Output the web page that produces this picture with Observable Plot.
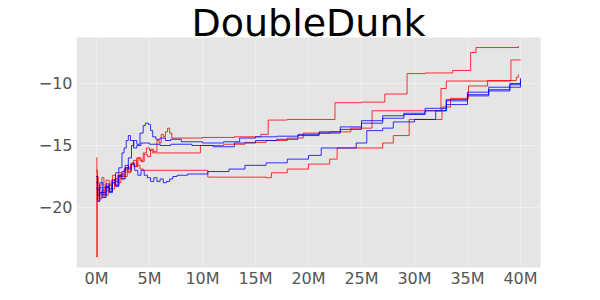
<!DOCTYPE html>
<html>
<head>
<meta charset="utf-8">
<script src="https://cdn.jsdelivr.net/npm/d3@7"></script>
<script src="https://cdn.jsdelivr.net/npm/@observablehq/plot@0.6"></script>
<style>
  html, body { margin: 0; padding: 0; background: #fff; }
  #chart { width: 600px; height: 300px; }
</style>
</head>
<body>
<div id="chart"></div>
<script>
const title = "DoubleDunk";
const xTicks = [0, 5, 10, 15, 20, 25, 30, 35, 40];
const yTicks = [-10, -15, -20];

// step (millions of frames) / score pairs for each run
const red1Steps = [0,0.1,0.3,0.5,0.7,0.9,1.2,1.5,1.8,2.1,2.4,2.7,3.0,3.3,3.6,3.9,4.2,4.5,4.8,5.1,5.4,5.7,5.9,6.1,6.3,6.5,6.7,6.9,7.1,7.5,10,13,15.5,16.2,18,22.5,25,27.2,29.3,31,33.6,35.3,35.8,39.8];
const red1Score = [-17,-19,-18.2,-17.6,-18.4,-17.8,-18.1,-17.4,-17.9,-17.2,-17.5,-16.8,-17.1,-16.4,-16.7,-16,-16.3,-15.7,-15.9,-15.3,-15.5,-14.6,-14.8,-14.1,-14.3,-13.9,-13.6,-14,-14.4,-14.4,-14.35,-14.3,-14.1,-12.95,-12.9,-11.55,-11.5,-10.85,-9.2,-9.15,-8.95,-7.5,-7.1,-7.0];

const red2Steps = [0,0.03,0.06,0.15,0.3,0.5,0.8,1.1,1.4,1.7,2.0,2.3,2.6,2.9,3.2,3.5,3.8,4.1,4.4,4.7,5.0,5.3,5.6,9.8,12,14,16,18,19.5,22,24,26,32.5,33,39.1,40];
const red2Score = [-16,-24,-17.5,-19.5,-18.8,-19.2,-18.3,-18.7,-17.8,-18.2,-17.4,-17.7,-16.9,-17.2,-16.5,-16.7,-16,-16.2,-15.6,-15.2,-15.4,-15.6,-15.6,-15,-14.9,-14.75,-14.6,-14.4,-14,-13.9,-13.6,-12.2,-10.4,-9.8,-8.1,-8.1];

const red3Steps = [0,0.1,0.3,0.5,0.8,1.1,1.4,1.7,2.0,2.3,2.6,2.9,3.2,3.5,3.8,4.1,4.4,9,10.5,16,16.5,18,20,22,22.7,27,28,29.5,32.6,33.4,35.1,36.9,39.6,39.8];
const red3Score = [-17.5,-18.5,-19.3,-18.6,-19,-18.2,-18.5,-17.7,-18,-17.3,-17.5,-16.8,-16.5,-16.2,-16.6,-16.9,-17,-17,-17.55,-17.6,-17.2,-16.9,-16.5,-16.1,-15.2,-14.8,-14.2,-12.9,-11.9,-11.2,-10.2,-9.76,-9.5,-9.3];

const blue1Steps = [0,0.1,0.3,0.6,0.9,1.2,1.5,1.8,2.1,2.4,2.7,3.0,3.3,3.5,3.8,4.1,4.4,4.6,4.9,5.1,5.3,5.6,6.0,6.5,7,8,10,12,13.5,15,17,19,21,23,25,27,29,31,33,35,37,39,40];
const blue1Score = [-17.5,-18.6,-18,-18.8,-18.1,-18.5,-17.8,-18.2,-17.4,-17.7,-16.8,-16,-15,-14.6,-14.9,-14,-13.4,-13.2,-13.3,-13.8,-14.3,-14.5,-14.4,-14.6,-14.5,-14.7,-14.8,-14.7,-14.4,-14.3,-14.25,-14.1,-13.9,-13.5,-13,-12.6,-12.4,-12,-11.4,-10.9,-10.5,-10.1,-9.6];

const blue2Steps = [0,0.1,0.3,0.6,0.9,1.2,1.5,1.8,2.1,2.4,2.6,2.8,3.0,3.2,3.5,3.8,4.2,5,6,7,9,11,13,15,17,19,21,23,25,27,29,31,33,35,37,39,40];
const blue2Score = [-18,-19,-18.4,-19,-18.3,-18.7,-18,-17.2,-16.8,-15.6,-15.2,-14.6,-14.2,-14.6,-15.2,-15,-14.8,-14.9,-15,-14.9,-15,-15.1,-14.8,-14.6,-14.5,-14.2,-14,-13.7,-13.2,-12.8,-12.5,-12.2,-11.3,-10.7,-10.3,-10,-9.8];

const blue3Steps = [0,0.1,0.3,0.6,0.9,1.2,1.5,1.8,2.1,2.4,2.7,3.0,3.3,3.6,3.9,4.2,4.5,4.8,5.1,5.4,5.7,6.0,6.3,6.6,6.9,7.2,7.6,8.6,10.5,12.5,14,16,18,20,21.2,24.5,25.5,27,28,30,32,33,35,37,39,40];
const blue3Score = [-18.5,-19.5,-18.8,-19.2,-18.4,-18.8,-18,-18.3,-17.5,-17.1,-16.6,-16.9,-16.5,-17,-17.4,-17,-17.4,-17.6,-17.9,-17.6,-17.9,-17.7,-18,-17.9,-17.7,-17.5,-17.4,-17.3,-17.1,-16.9,-16.6,-16.4,-16.1,-15.8,-15.2,-14.8,-13.8,-13.6,-13.1,-12.9,-12.2,-11.7,-11,-10.6,-10.3,-10.1];

const runs = [
  {name: "red1", color: "#ff0000", steps: red1Steps, score: red1Score},
  {name: "red2", color: "#ff0000", steps: red2Steps, score: red2Score},
  {name: "red3", color: "#ff0000", steps: red3Steps, score: red3Score},
  {name: "blue1", color: "#0000ff", steps: blue1Steps, score: blue1Score},
  {name: "blue2", color: "#0000ff", steps: blue2Steps, score: blue2Score},
  {name: "blue3", color: "#0000ff", steps: blue3Steps, score: blue3Score}
];

const rows = runs.flatMap(r => r.steps.map((s, i) => ({run: r.name, color: r.color, x: s, y: r.score[i]})));

const chart = Plot.plot({
  width: 600,
  height: 300,
  marginTop: 37,
  marginBottom: 33,
  marginLeft: 76,
  marginRight: 60,
  style: {fontFamily: "DejaVu Sans", fontSize: "16px", color: "#555", background: "#fff"},
  x: {domain: [-1.89, 41.89], ticks: xTicks, tickFormat: d => d + "M", tickSize: 0, tickPadding: 5, label: null},
  y: {domain: [-24.84, -6.29], ticks: yTicks, tickFormat: d => "\u2212" + Math.abs(d), tickSize: 0, tickPadding: 4, label: null},
  marks: [
    Plot.frame({fill: "#e5e5e5", stroke: null}),
    Plot.gridX(xTicks, {stroke: "#fff", strokeOpacity: 0.4, strokeWidth: 1}),
    Plot.gridY(yTicks, {stroke: "#fff", strokeOpacity: 0.4, strokeWidth: 1}),
    Plot.line(rows, {x: "x", y: "y", z: "run", stroke: "color", strokeWidth: 1, strokeOpacity: 0.8, curve: "step-after"}),
    Plot.text([title], {frameAnchor: "top", lineAnchor: "bottom", dy: -2, fontSize: 38, fill: "#000", fontFamily: "DejaVu Sans"})
  ]
});
document.getElementById("chart").appendChild(chart);
</script>
</body>
</html>
